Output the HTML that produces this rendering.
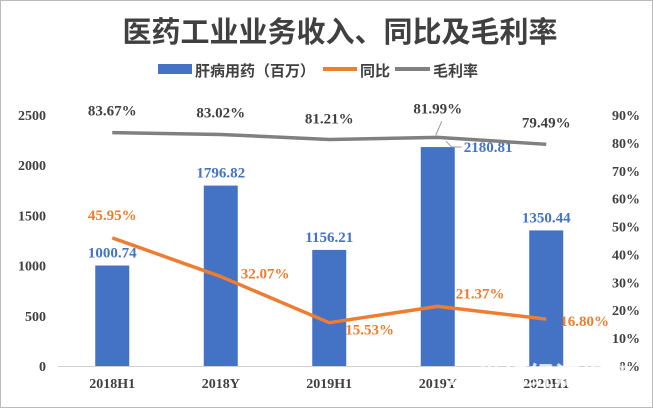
<!DOCTYPE html>
<html><head><meta charset="utf-8"><style>
body{margin:0;background:#fff}
svg{display:block;font-family:"Liberation Serif","Noto Serif CJK SC",serif}
</style></head><body>
<svg id="c" width="653" height="408">
<rect x="0.5" y="0.5" width="652" height="407" fill="#fff" stroke="#bbb"/>
<text x="340" y="42" text-anchor="middle" font-size="29" font-weight="bold" fill="#404040" font-family="'Liberation Sans','Noto Sans CJK SC',sans-serif">医药工业业务收入、同比及毛利率</text>
<g font-family="'Liberation Sans','Noto Sans CJK SC',sans-serif" font-size="15" font-weight="bold" fill="#404040">
<rect x="158" y="64" width="34" height="10" fill="#4472c4"/>
<text x="195" y="76">肝病用药（百万）</text>
<line x1="323" y1="69" x2="357" y2="69" stroke="#ed7d31" stroke-width="4"/>
<text x="360" y="76">同比</text>
<line x1="395" y1="69" x2="430" y2="69" stroke="#808080" stroke-width="4"/>
<text x="433" y="76">毛利率</text>
</g>
<g id="plot"></g>
<text x="540" y="385" text-anchor="middle" font-size="26" font-weight="bold" fill="#fff" opacity="0.8" font-family="'Liberation Sans','Noto Sans CJK SC',sans-serif">21世纪经济报道</text>
</svg>
<script>
const categories=["2018H1","2018Y","2019H1","2019Y","2020H1"];
const revenue=[1000.74,1796.82,1156.21,2180.81,1350.44];
const yoy=[45.95,32.07,15.53,21.37,16.80];
const margin=[83.67,83.02,81.21,81.99,79.49];
const leftTicks=[0,500,1000,1500,2000,2500];
const rightTicks=[0,10,20,30,40,50,60,70,80,90];
const NS="http://www.w3.org/2000/svg";
const g=document.getElementById('plot');
const x0=58,step=108.5,yBase=366,yTop=115;
const xc=i=>x0+step*(i+0.5);
const yL=v=>yBase-(v/2500)*(yBase-yTop);
const yR=v=>yBase-(v/90)*(yBase-yTop);
function el(t,a,txt){const e=document.createElementNS(NS,t);for(const k in a)e.setAttribute(k,a[k]);if(txt!=null)e.textContent=txt;g.appendChild(e);return e;}
let e=el('line',{x1:x0,y1:yBase+0.5,x2:x0+step*5,y2:yBase+0.5,stroke:'#d0d0d0'});


leftTicks.forEach(v=>{const t=el('text',{x:46,y:yL(v)+5,'text-anchor':'end','font-size':14,'font-weight':'bold',fill:'#404040'},String(v));

});
rightTicks.forEach(v=>{const t=el('text',{x:640,y:yR(v)+5,'text-anchor':'end','font-size':14,'font-weight':'bold',fill:'#404040'},v+'%');

});
categories.forEach((c,i)=>{const t=el('text',{x:xc(i),y:388,'text-anchor':'middle','font-size':14,'font-weight':'bold',fill:'#404040'},c);

});
revenue.forEach((v,i)=>{const b=el('rect',{x:xc(i)-17,y:yL(v),width:34,height:yBase-yL(v),fill:'#4472c4'});


let lx=xc(i),ly=yL(v)-8,anchor='middle';
if(i===3){lx=xc(i)+26;ly=yL(v)+5;anchor='start';el('polyline',{points:`${xc(i)+8},${yL(v)-6} ${xc(i)+14},${yL(v)} ${xc(i)+24},${yL(v)}`,fill:'none',stroke:'#999'});}
const t=el('text',{x:lx,y:ly,'text-anchor':anchor,'font-size':15,'font-weight':'bold',fill:'#4472c4'},v.toFixed(2));

});
function line(arr,col,name){const p=el('polyline',{points:arr.map((v,i)=>xc(i)+','+yR(v)).join(' '),fill:'none',stroke:col,'stroke-width':3.5,'stroke-linejoin':'round'});

}
line(margin,'#808080','margin-line');
line(yoy,'#ed7d31','yoy-line');
const mOff=[-17,-17,-16,-24,-17];
el('line',{x1:xc(3)-2,y1:yR(margin[3])-2,x2:xc(3)+4,y2:yR(margin[3])-16,stroke:'#999'});
margin.forEach((v,i)=>{const t=el('text',{x:xc(i),y:yR(v)+mOff[i],'text-anchor':'middle','font-size':15,'font-weight':'bold',fill:'#404040'},v.toFixed(2)+'%');

});
const yDx=[0,20,16,18,14],yDy=[-18,2,12,-8,7],yAn=['middle','start','start','start','start'];
yoy.forEach((v,i)=>{const t=el('text',{x:xc(i)+yDx[i],y:yR(v)+yDy[i],'text-anchor':yAn[i],'font-size':15,'font-weight':'bold',fill:'#ed7d31'},v.toFixed(2)+'%');

});
</script>
</body></html>
